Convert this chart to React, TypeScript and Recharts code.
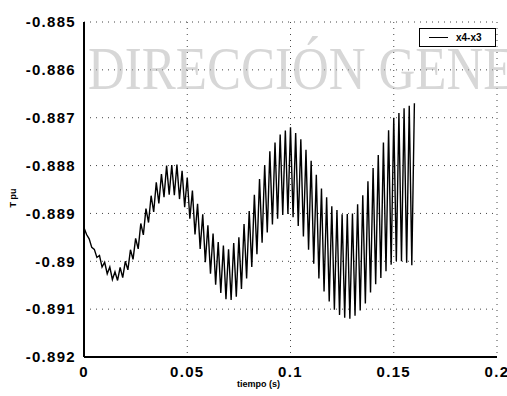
import React from "react";
import {
  LineChart,
  Line,
  XAxis,
  YAxis,
  CartesianGrid,
  Legend,
  Label,
} from "recharts";

// tiempo (s)
const tiempo = [
  0, 0.00125, 0.0025, 0.00375, 0.005, 0.00625, 0.0075, 0.00875, 0.01, 0.01125, 0.0125, 0.01375,
  0.015, 0.01625, 0.0175, 0.01875, 0.02, 0.02125, 0.0225, 0.02375, 0.025, 0.02625, 0.0275, 0.02875,
  0.03, 0.03125, 0.0325, 0.03375, 0.035, 0.03625, 0.0375, 0.03875, 0.04, 0.04125, 0.0425, 0.04375,
  0.045, 0.04625, 0.0475, 0.04875, 0.05, 0.05125, 0.0525, 0.05375, 0.055, 0.05625, 0.0575, 0.05875,
  0.06, 0.06125, 0.0625, 0.06375, 0.065, 0.06625, 0.0675, 0.06875, 0.07, 0.07125, 0.0725, 0.07375,
  0.075, 0.07625, 0.0775, 0.07875, 0.08, 0.08125, 0.0825, 0.08375, 0.085, 0.08625, 0.0875, 0.08875,
  0.09, 0.09125, 0.0925, 0.09375, 0.095, 0.09625, 0.0975, 0.09875, 0.1, 0.10125, 0.1025, 0.10375,
  0.105, 0.10625, 0.1075, 0.10875, 0.11, 0.11125, 0.1125, 0.11375, 0.115, 0.11625, 0.1175, 0.11875,
  0.12, 0.12125, 0.1225, 0.12375, 0.125, 0.12625, 0.1275, 0.12875, 0.13, 0.13125, 0.1325, 0.13375,
  0.135, 0.13625, 0.1375, 0.13875, 0.14, 0.14125, 0.1425, 0.14375, 0.145, 0.14625, 0.1475, 0.14875,
  0.15, 0.15125, 0.1525, 0.15375, 0.155, 0.15625, 0.1575, 0.15875, 0.16,
];

// x4-x3 (T pu)
const x4x3 = [
  -0.8893, -0.88944, -0.88953, -0.88971, -0.88975, -0.88992, -0.88988, -0.89012, -0.89002, -0.89026,
  -0.89012, -0.89038, -0.89022, -0.8904, -0.89013, -0.89034, -0.89, -0.89018, -0.88976, -0.88996,
  -0.88952, -0.88974, -0.88921, -0.88945, -0.8889, -0.88919, -0.88863, -0.88897, -0.88835, -0.88879,
  -0.88818, -0.88866, -0.888, -0.88861, -0.88799, -0.88862, -0.88798, -0.8887, -0.88811, -0.88887,
  -0.88825, -0.88911, -0.88852, -0.88944, -0.8888, -0.88974, -0.88902, -0.89002, -0.88925, -0.89026,
  -0.88942, -0.89049, -0.8896, -0.89066, -0.88967, -0.89079, -0.88975, -0.89081, -0.88962, -0.89074,
  -0.8895, -0.89058, -0.88922, -0.89036, -0.88895, -0.89012, -0.88861, -0.88985, -0.88828, -0.88961,
  -0.88799, -0.8894, -0.8877, -0.88923, -0.88752, -0.88911, -0.88735, -0.88903, -0.88727, -0.88901,
  -0.8872, -0.88908, -0.88732, -0.88926, -0.88745, -0.88948, -0.88767, -0.88976, -0.8879, -0.89005,
  -0.88819, -0.89036, -0.88848, -0.89063, -0.88866, -0.89084, -0.88885, -0.89101, -0.88893, -0.89112,
  -0.88902, -0.89118, -0.88901, -0.8912, -0.889, -0.89114, -0.88881, -0.89103, -0.88862, -0.89088,
  -0.88833, -0.89065, -0.88805, -0.89048, -0.88778, -0.89035, -0.88752, -0.89021, -0.88726, -0.89007,
  -0.887, -0.89, -0.8869, -0.89, -0.8868, -0.89003, -0.88675, -0.89008, -0.8867,
];

const xTicks = [0, 0.05, 0.1, 0.15, 0.2];
const yTicks = [-0.892, -0.891, -0.89, -0.889, -0.888, -0.887, -0.886, -0.885];
const yTickLabels = ["-0.892", "-0.891", "-0.89", "-0.889", "-0.888", "-0.887", "-0.886", "-0.885"];

const data = tiempo.map((t, i) => ({ t, v: x4x3[i] }));

const tickStyle = {
  fill: "#000",
  fontSize: 15,
  fontWeight: 700,
  fontFamily: "'Liberation Sans', Arial, sans-serif",
  letterSpacing: 1.3,
};

const LegendBox = () => (
  <div
    style={{
      width: 77,
      height: 19,
      border: "1.5px solid #000",
      background: "#fff",
      display: "flex",
      alignItems: "center",
      boxSizing: "border-box",
      fontFamily: "'Liberation Sans', Arial, sans-serif",
      fontSize: 10,
      fontWeight: 700,
    }}
  >
    <div style={{ width: 19, height: 0, borderTop: "1px solid #000", marginLeft: 9, marginRight: 8 }} />
    <span>x4-x3</span>
  </div>
);

export default function App() {
  return (
    <div style={{ position: "absolute", left: 0, top: 0, width: 507, height: 396, background: "#fff", overflow: "hidden" }}>
      <LineChart
        width={507}
        height={396}
        data={data}
        margin={{ top: 22, right: 10, bottom: 0, left: 0 }}
      >
        <CartesianGrid stroke="#444" strokeDasharray="1 5" />
        <XAxis
          dataKey="t"
          type="number"
          domain={[0, 0.2]}
          ticks={xTicks}
          interval={0}
          height={39}
          tickLine={false}
          tickMargin={3}
          axisLine={{ stroke: "#000", strokeWidth: 2 }}
          tick={tickStyle}
          tickFormatter={(v: number) => String(v)}
        >
          <Label
            value="tiempo (s)"
            position="insideBottom"
            offset={9}
            dx={-32}
            style={{ fontSize: 9, fontWeight: 700, fill: "#000", fontFamily: "'Liberation Sans', Arial, sans-serif" }}
          />
        </XAxis>
        <XAxis xAxisId="top" orientation="top" height={0} tick={false} tickLine={false} axisLine={{ stroke: "#000", strokeWidth: 2 }} />
        <YAxis
          type="number"
          domain={[-0.892, -0.885]}
          ticks={yTicks}
          interval={0}
          width={84}
          tickLine={false}
          tickMargin={2}
          axisLine={{ stroke: "#000", strokeWidth: 2 }}
          tick={tickStyle}
          tickFormatter={(v: number, i: number) => yTickLabels[i]}
        >
          <Label
            content={() => (
              <text
                x={14}
                y={198}
                transform="rotate(-90 14 198)"
                textAnchor="middle"
                dominantBaseline="middle"
                style={{ fontSize: 9, fontWeight: 700, fill: "#000", fontFamily: "'Liberation Sans', Arial, sans-serif" }}
              >
                T pu
              </text>
            )}
          />
        </YAxis>
        <YAxis yAxisId="right" orientation="right" width={0} tick={false} tickLine={false} axisLine={{ stroke: "#000", strokeWidth: 2 }} />
        <Legend
          layout="horizontal"
          verticalAlign="middle"
          align="center"
          content={() => <LegendBox />}
          wrapperStyle={{ top: 28, left: 419, width: 77, height: 19 }}
        />
        <Line
          type="linear"
          dataKey="v"
          stroke="#000"
          strokeWidth={1.4}
          dot={false}
          isAnimationActive={false}
        />
      </LineChart>
      <div
        style={{
          position: "absolute",
          left: 88,
          top: 34,
          whiteSpace: "nowrap",
          fontFamily: "'Liberation Serif', 'Times New Roman', serif",
          fontSize: 51,
          color: "rgba(175,175,175,0.5)",
          transform: "scaleY(1.2)",
          transformOrigin: "left top",
          pointerEvents: "none",
        }}
      >
        DIRECCIÓN GENERAL DE BIBLIOTECAS
      </div>
    </div>
  );
}
